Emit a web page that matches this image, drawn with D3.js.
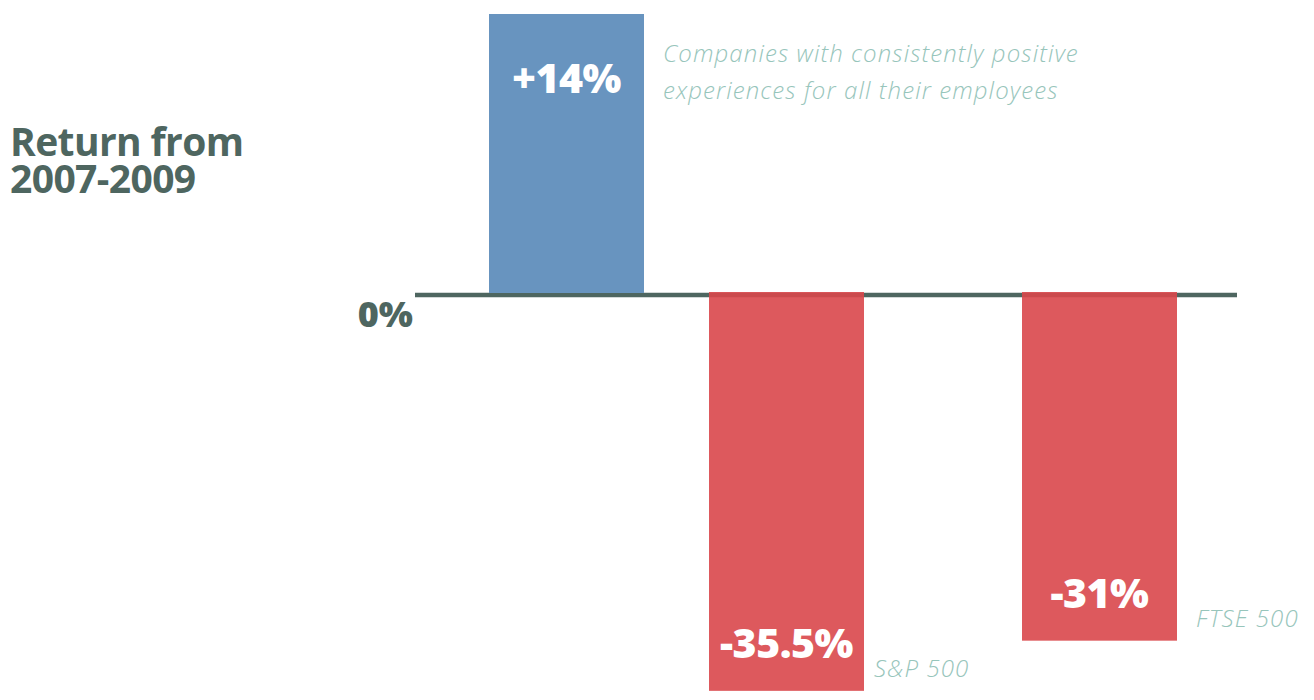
<!DOCTYPE html>
<html>
<head>
<meta charset="utf-8">
<script src="https://cdn.jsdelivr.net/npm/d3@7"></script>
<style>
  body { margin: 0; background: #fff; }
  svg { display: block; }
</style>
</head>
<body>
<script>
// data
const categories = ["Employee experience", "S&P 500", "FTSE 500"];
const returns = [14, -35.5, -31];
const valueLabels = ["+14%", "-35.5%", "-31%"];
const notes = [
  ["Companies with consistently positive", "experiences for all their employees"],
  ["S&P 500"],
  ["FTSE 500"]
];

const W = 1314, H = 700;
const ink = "#4e6660", blue = "#6894bf", red = "#d9474b", noteCol = "#97c5bb";
const boldFont = "'Open Sans', sans-serif";

const svg = d3.select("body").append("svg")
    .attr("width", W)
    .attr("height", H);

// x: bars are not evenly spaced in the picture, so an ordinal scale holds the left edges
const x = d3.scaleOrdinal()
    .domain(categories)
    .range([489, 709, 1022]);
const barW = 155;

// y: zero sits at 295, the picture does not share one scale above and below zero
const y = d3.scaleLinear()
    .domain([-36.5, 0, 14])
    .range([702, 295, 14]);

// title
svg.append("text")
    .attr("x", 10).attr("y", 156)
    .attr("font-family", boldFont)
    .attr("font-weight", 700)
    .attr("font-size", 39)
    .attr("letter-spacing", -0.6)
    .attr("fill", ink)
    .selectAll("tspan")
    .data(["Return from", "2007-2009"])
    .join("tspan")
    .attr("x", 10)
    .attr("dy", (d, i) => i ? 37 : 0)
    .text(d => d);

// zero line
svg.append("line")
    .attr("x1", 415).attr("x2", 1237)
    .attr("y1", y(0)).attr("y2", y(0))
    .attr("stroke", ink)
    .attr("stroke-width", 4.5);

svg.append("text")
    .attr("x", 413).attr("y", y(0) + 32)
    .attr("text-anchor", "end")
    .attr("font-family", boldFont)
    .attr("font-weight", 800)
    .attr("font-size", 36)
    .attr("fill", ink)
    .text("0%");

// bars, red ones a bit see-through so the line shows under them
svg.selectAll("rect.bar")
    .data(returns)
    .join("rect")
    .attr("class", "bar")
    .attr("x", (d, i) => x(categories[i]))
    .attr("width", barW)
    .attr("y", d => d >= 0 ? y(d) : y(0) - 3)
    .attr("height", d => d >= 0 ? y(0) - 2 - y(d) : y(d) - y(0) + 3)
    .attr("fill", d => d >= 0 ? blue : red)
    .attr("fill-opacity", d => d >= 0 ? 1 : 0.9);

// value labels inside the bars
svg.selectAll("text.val")
    .data(returns)
    .join("text")
    .attr("class", "val")
    .attr("x", (d, i) => x(categories[i]) + barW / 2)
    .attr("y", d => d >= 0 ? y(d) + 79 : y(d) - 33)
    .attr("text-anchor", "middle")
    .attr("font-family", boldFont)
    .attr("font-weight", 800)
    .attr("font-size", 41)
    .attr("letter-spacing", -0.5)
    .attr("fill", "#fff")
    .text((d, i) => valueLabels[i]);

// notes beside the bars
svg.selectAll("text.note")
    .data(returns)
    .join("text")
    .attr("class", "note")
    .attr("x", (d, i) => x(categories[i]) + barW + (i === 1 ? 10 : 19))
    .attr("y", d => d >= 0 ? y(d) + 48 : y(d) - 14)
    .attr("font-family", "'Open Sans', sans-serif")
    .attr("font-style", "italic")
    .attr("font-weight", 300)
    .attr("font-size", 24)
    .attr("letter-spacing", 1.1)
    .attr("fill", noteCol)
    .selectAll("tspan")
    .data((d, i) => notes[i])
    .join("tspan")
    .attr("x", function () { return this.parentNode.getAttribute("x"); })
    .attr("dy", (d, i) => i ? 37 : 0)
    .text(d => d);
</script>
</body>
</html>
